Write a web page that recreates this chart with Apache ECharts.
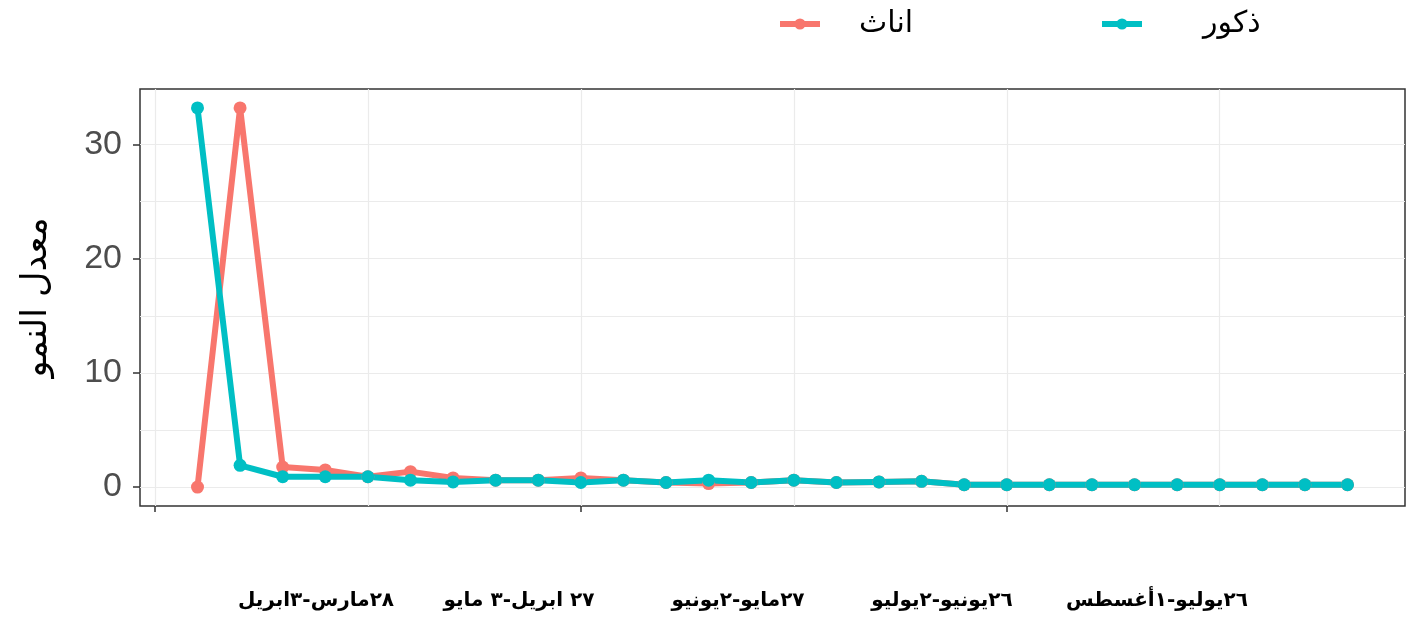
<!DOCTYPE html>
<html>
<head>
<meta charset="utf-8">
<script src="https://cdn.jsdelivr.net/npm/echarts@6/dist/echarts.min.js"></script>
<style>
html, body { margin: 0; padding: 0; background: #fff; }
#chart { width: 1416px; height: 620px; }
</style>
</head>
<body>
<div id="chart"></div>
<script>
// weekly growth rate, one point per week
var weeks = [1, 2, 3, 4, 5, 6, 7, 8, 9, 10, 11, 12, 13, 14, 15, 16, 17, 18, 19, 20, 21, 22, 23, 24, 25, 26, 27, 28];
var femaleRate = [0, 33.2, 1.75, 1.5, 0.9, 1.35, 0.8, 0.6, 0.6, 0.8, 0.6, 0.4, 0.3, 0.4, 0.6, 0.4, 0.45, 0.5, 0.2, 0.2, 0.2, 0.2, 0.2, 0.2, 0.2, 0.2, 0.2, 0.2];
var maleRate = [33.2, 1.9, 0.9, 0.9, 0.9, 0.6, 0.45, 0.6, 0.6, 0.4, 0.6, 0.4, 0.6, 0.4, 0.6, 0.4, 0.45, 0.5, 0.2, 0.2, 0.2, 0.2, 0.2, 0.2, 0.2, 0.2, 0.2, 0.2];
var seriesNames = ['اناث', 'ذكور'];
var seriesColors = ['#F8766D', '#00BFC4'];
var yTicks = [0, 10, 20, 30];
var yGrid = [0, 5, 10, 15, 20, 25, 30];
var xGrid = [0, 5, 10, 15, 20, 25];
var xTicks = [0, 10, 20];
var periodLabels = ['٢٨مارس-٣ابريل', '٢٧ ابريل-٣ مايو', '٢٧مايو-٢يونيو', '٢٦يونيو-٢يوليو', '٢٦يوليو-١أغسطس'];
var periodCenters = [316, 519, 738, 942, 1157];

var xMin = -0.35, xMax = 29.35;
var yMin = -1.66, yMax = 34.86;

function pairs(vals) {
	return weeks.map(function(w, i) { return [w, vals[i]]; });
}

function legendFor(i, left, gap) {
	return {
		left: left,
		top: 4,
		itemWidth: 40,
		itemHeight: 14,
		data: [{ name: seriesNames[i], itemStyle: { color: seriesColors[i] }, lineStyle: { color: seriesColors[i], width: 6 } }],
		textStyle: {
			fontFamily: 'DejaVu Sans',
			fontSize: 30,
			color: '#000',
			padding: [0, 0, 0, gap]
		}
	};
}

var option = {
	backgroundColor: '#fff',
	animation: false,
	grid: {
		left: 140, right: 11, top: 89, bottom: 114,
		show: true,
		borderColor: '#333',
		borderWidth: 1.5,
		backgroundColor: 'transparent'
	},
	legend: [legendFor(0, 772, 34), legendFor(1, 1094, 56)],
	xAxis: [{
		type: 'value',
		min: xMin, max: xMax,
		axisLine: { show: false, onZero: false },
		axisLabel: { show: false },
		axisTick: { show: false, customValues: xGrid },
		splitLine: { show: true, lineStyle: { color: '#ebebeb', width: 1.2 } }
	}, {
		type: 'value',
		min: xMin, max: xMax,
		position: 'bottom',
		axisLine: { show: false, onZero: false },
		axisLabel: { show: false },
		axisTick: { show: true, length: 6, customValues: xTicks, lineStyle: { color: '#333', width: 1.5 } },
		splitLine: { show: false }
	}],
	yAxis: [{
		type: 'value',
		min: yMin, max: yMax,
		name: 'معدل النمو',
		nameLocation: 'middle',
		nameGap: 86,
		nameTextStyle: { fontFamily: 'DejaVu Sans', fontSize: 35, color: '#000' },
		axisLine: { show: false, onZero: false },
		axisTick: { show: true, length: 7, customValues: yTicks, lineStyle: { color: '#333', width: 1.5 } },
		axisLabel: {
			customValues: yTicks,
			margin: 18,
			fontFamily: 'Liberation Sans',
			fontSize: 34,
			color: '#4d4d4d'
		},
		splitLine: { show: false }
	}, {
		type: 'value',
		min: yMin, max: yMax,
		position: 'left',
		axisLine: { show: false, onZero: false },
		axisLabel: { show: false },
		axisTick: { show: false, customValues: yGrid },
		splitLine: { show: true, lineStyle: { color: '#ebebeb', width: 1.2 } }
	}],
	graphic: periodLabels.map(function(t, i) {
		return {
			type: 'text',
			x: periodCenters[i],
			y: 601,
			style: {
				text: t,
				fontFamily: 'DejaVu Sans',
				fontWeight: 'bold',
				fontSize: 20,
				fill: '#000',
				align: 'center',
				verticalAlign: 'middle'
			}
		};
	}),
	series: [{
		name: seriesNames[0],
		type: 'line',
		xAxisIndex: 0,
		yAxisIndex: 0,
		data: pairs(femaleRate),
		symbol: 'circle',
		symbolSize: 13,
		itemStyle: { color: seriesColors[0] },
		lineStyle: { color: seriesColors[0], width: 6 }
	}, {
		name: seriesNames[1],
		type: 'line',
		xAxisIndex: 0,
		yAxisIndex: 0,
		data: pairs(maleRate),
		symbol: 'circle',
		symbolSize: 13,
		itemStyle: { color: seriesColors[1] },
		lineStyle: { color: seriesColors[1], width: 6 }
	}]
};

var my = echarts.init(document.getElementById('chart'));
my.setOption(option);
</script>
</body>
</html>
